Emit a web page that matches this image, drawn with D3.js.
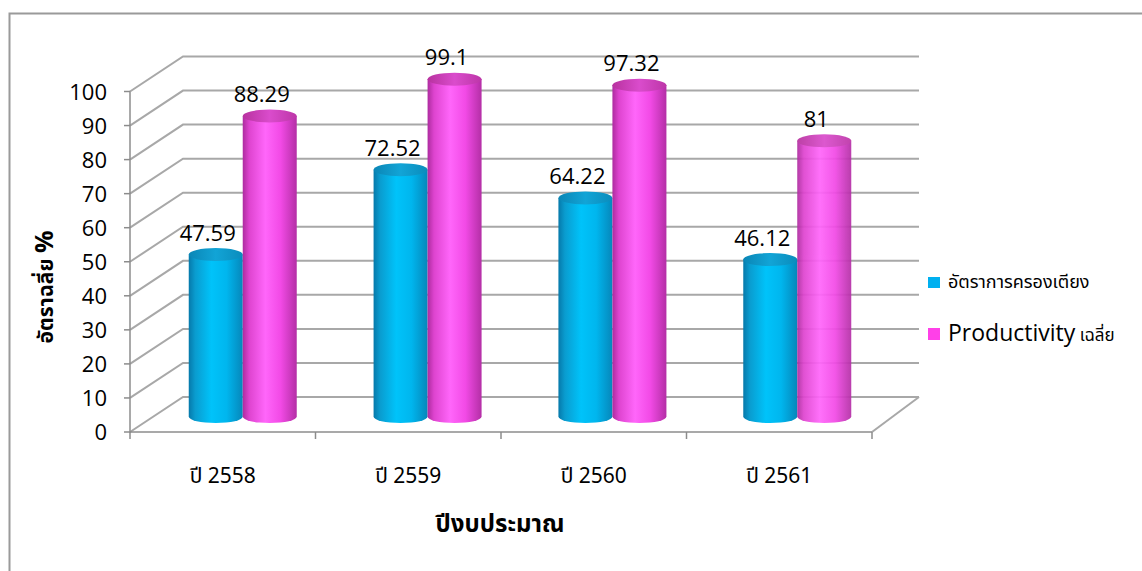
<!DOCTYPE html>
<html>
<head>
<meta charset="utf-8">
<script src="https://cdn.jsdelivr.net/npm/d3@7"></script>
<style>
  html, body { margin: 0; padding: 0; background: #fff; }
  svg { display: block; }
  .num { font-family: "Open Sans", "Liberation Sans", sans-serif; }
  .thai { font-family: "Noto Sans Thai", "Noto Sans Thai UI", "Tahoma", "Noto Sans", sans-serif; }
</style>
</head>
<body>
<svg id="chart" width="1142" height="571"></svg>
<script>
// Chart data
const categories = ["ปี 2558", "ปี 2559", "ปี 2560", "ปี 2561"];
const seriesNames = ["อัตราการครองเตียง", "Productivity"];
const occupancy = [47.59, 72.52, 64.22, 46.12];
const productivity = [88.29, 99.1, 97.32, 81];
const yTicks = [0, 10, 20, 30, 40, 50, 60, 70, 80, 90, 100];
const yTitle = "อัตราฉลี่ย";
const xTitle = "ปีงบประมาณ";

const svg = d3.select("#chart");

// Front plane scales of the 3D box
const x = d3.scaleBand().domain(categories).range([130, 872]).paddingInner(0).paddingOuter(0);
const y = d3.scaleLinear().domain([0, 100]).range([432, 91.5]);

// Oblique projection with a little perspective: depth d in [0,1]
const depthY = 35;
function depthX(xf) { return 53 - 6 * (xf - 130) / 742; }
function px(xf, d) { return xf + d * depthX(xf); }
function py(v, d) { return y(v) - d * depthY; }

// Outer chart frame
svg.append("rect")
  .attr("x", 9.5).attr("y", 13.5)
  .attr("width", 1200).attr("height", 700)
  .attr("fill", "none").attr("stroke", "#9a9a9a").attr("stroke-width", 2);

const grid = svg.append("g").attr("stroke", "#a8a8a8").attr("stroke-width", 2).attr("fill", "none");
const x0 = 130, x1 = 872;
yTicks.forEach(v => {
  // side wall diagonal + back wall line
  grid.append("path").attr("d", d3.line()([
    [x0, y(v)], [px(x0, 1), py(v, 1)], [px(x1, 1), py(v, 1)]
  ]));
});
// floor right edge
grid.append("path").attr("d", d3.line()([[x1, y(0)], [px(x1, 1), py(0, 1)]]));

// Axes
const axisG = svg.append("g").attr("stroke", "#8c8c8c").attr("stroke-width", 1.5).attr("fill", "none");
axisG.append("line").attr("x1", x0).attr("x2", x0).attr("y1", y(100)).attr("y2", y(0) + 1);
axisG.append("line").attr("x1", x0).attr("x2", x1).attr("y1", y(0)).attr("y2", y(0));
yTicks.forEach(v => {
  axisG.append("line").attr("x1", x0 - 6).attr("x2", x0).attr("y1", y(v)).attr("y2", y(v));
});
const xEdges = categories.map(c => x(c)).concat([x1]);
xEdges.forEach(xe => {
  axisG.append("line").attr("x1", xe).attr("x2", xe).attr("y1", y(0)).attr("y2", y(0) + 7);
});

// Y tick labels
svg.append("g").selectAll("text").data(yTicks).join("text")
  .attr("class", "num")
  .attr("x", 107).attr("y", d => y(d) + 8)
  .attr("text-anchor", "end")
  .attr("font-size", 22).attr("fill", "#000")
  .text(d => d);

// X tick labels
svg.append("g").selectAll("text").data(categories).join("text")
  .attr("class", "thai")
  .attr("x", d => x(d) + x.bandwidth() / 2).attr("y", 483)
  .attr("text-anchor", "middle")
  .attr("font-size", 21).attr("fill", "#000")
  .text(d => d);

// Axis titles
svg.append("text").attr("class", "thai")
  .attr("x", 500).attr("y", 532)
  .attr("text-anchor", "middle").attr("font-size", 24).attr("font-weight", "bold")
  .text(xTitle);
const yt = svg.append("text")
  .attr("transform", "translate(53,287) rotate(-90)")
  .attr("text-anchor", "middle").attr("font-weight", "bold");
yt.append("tspan").attr("class", "thai").attr("font-size", 21).text(yTitle + " ");
yt.append("tspan").attr("class", "num").attr("font-size", 25).text("%");

// Cylinder gradients
const defs = svg.append("defs");
function bodyGrad(id, stops) {
  const g = defs.append("linearGradient").attr("id", id).attr("x1", 0).attr("x2", 1).attr("y1", 0).attr("y2", 0);
  stops.forEach(([o, c]) => g.append("stop").attr("offset", o).attr("stop-color", c));
}
bodyGrad("blueBody", [[0, "#0679aa"], [0.12, "#0a9ccf"], [0.42, "#00c3fa"], [0.7, "#00b6ee"], [1, "#0687ba"]]);
bodyGrad("blueTop", [[0, "#0a86b6"], [0.5, "#12a4d6"], [1, "#0a8cbc"]]);
bodyGrad("pinkBody", [[0, "#ad2c9f"], [0.12, "#de44cf"], [0.42, "#ff66fa"], [0.7, "#f24ae6"], [1, "#b42fa6"]]);
bodyGrad("pinkTop", [[0, "#b8329f"], [0.5, "#da4ccc"], [1, "#bd36a8"]]);

const barW = 54, ry = 6.5, barDepth = 0.44;
const series = [
  { values: occupancy, body: "url(#blueBody)", top: "url(#blueTop)", offset: -barW / 2 },
  { values: productivity, body: "url(#pinkBody)", top: "url(#pinkTop)", offset: barW / 2 }
];

const bars = svg.append("g");
categories.forEach((c, i) => {
  const cx0 = x(c) + x.bandwidth() / 2;
  series.forEach((s, si) => {
    const v = s.values[i];
    const cx = px(cx0, barDepth) - 3 + s.offset;
    const yb = py(0, barDepth);
    const ytop = py(v, barDepth);
    const g = bars.append("g");
    if (si === 1 && i === categories.length - 1) g.attr("opacity", 0.93);
    const l = cx - barW / 2, r = cx + barW / 2;
    // body with rounded bottom
    g.append("path")
      .attr("d", `M${l},${ytop} L${l},${yb} A${barW / 2},${ry} 0 0 0 ${r},${yb} L${r},${ytop} Z`)
      .attr("fill", s.body);
    // top cap
    g.append("ellipse")
      .attr("cx", cx).attr("cy", ytop).attr("rx", barW / 2).attr("ry", ry)
      .attr("fill", s.top);
    // value label
    svg.append("text").attr("class", "num")
      .attr("x", cx - 8).attr("y", ytop - 14)
      .attr("text-anchor", "middle").attr("font-size", 22).attr("fill", "#000")
      .text(v);
  });
});

// Legend
const legend = svg.append("g");
legend.append("rect").attr("x", 928).attr("y", 277).attr("width", 12).attr("height", 11).attr("fill", "#00b0f0");
legend.append("text").attr("class", "thai").attr("x", 948).attr("y", 288)
  .attr("font-size", 18).text(seriesNames[0]);
legend.append("rect").attr("x", 928).attr("y", 328).attr("width", 12).attr("height", 12).attr("fill", "#ff40e8");
const lt = legend.append("text").attr("x", 948).attr("y", 341);
lt.append("tspan").attr("class", "num").attr("font-size", 23).text(seriesNames[1]);
lt.append("tspan").attr("class", "thai").attr("font-size", 17).text(" เฉลี่ย");
</script>
</body>
</html>
